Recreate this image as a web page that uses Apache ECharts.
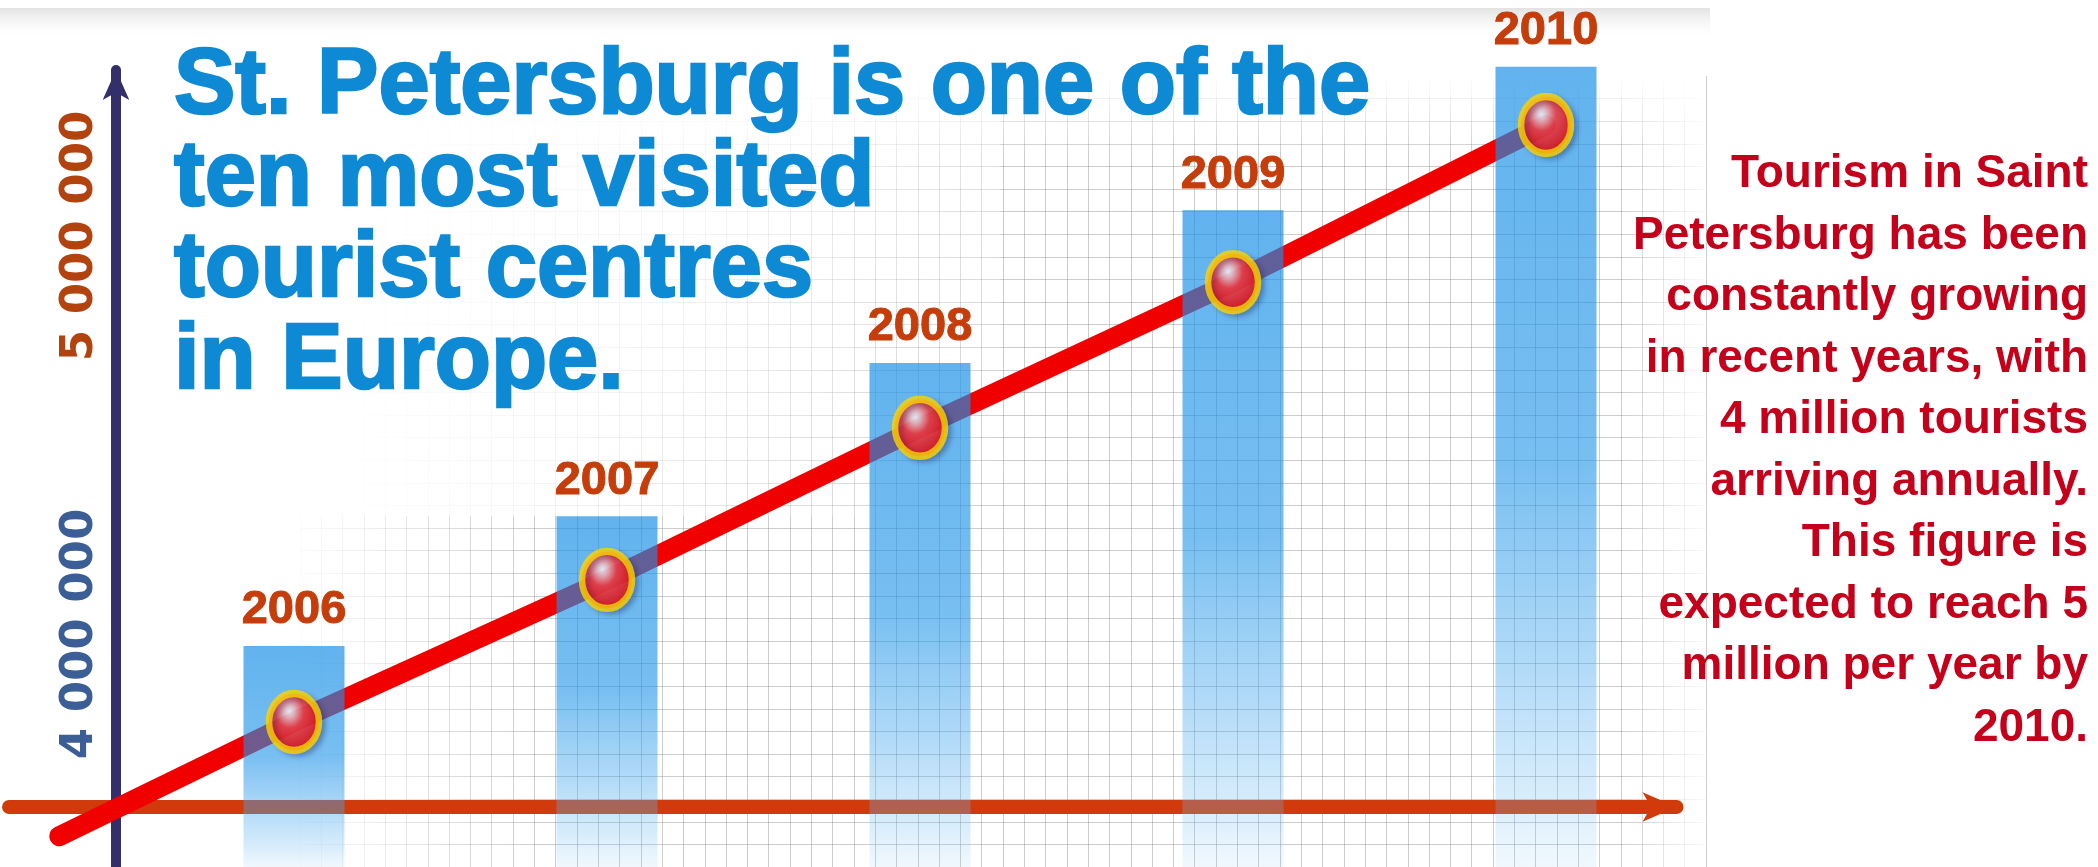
<!DOCTYPE html>
<html>
<head>
<meta charset="utf-8">
<script src="https://cdn.jsdelivr.net/npm/echarts@6.0.0/dist/echarts.min.js"></script>
<style>
html,body{margin:0;padding:0;background:#ffffff;}
#chart{width:2098px;height:867px;}
</style>
</head>
<body>
<div id="chart"></div>
<script>
// ---- data ----
const categories = ['2006', '2007', '2008', '2009', '2010'];
const barValues = [3970000, 4296000, 4681000, 5065000, 5425000];
const lineValues = [3779000, 4136000, 4518000, 4884000, 5279000];
const trendStart = [-0.75, 3492000];
const yTickValues = [4000000, 5000000];
const yTickLabels = ['4 000 000', '5 000 000'];
const yTickColors = ['#3b5e96', '#b2420e'];
const titleLines = ['St. Petersburg is one of the', 'ten most visited', 'tourist centres', 'in Europe.'];
const noteLines = ['Tourism in Saint', 'Petersburg has been', 'constantly growing', 'in recent years, with',
  '4 million tourists', 'arriving annually.', 'This figure is', 'expected to reach 5',
  'million per year by', '2010.'];

const FONT = '"Liberation Sans", Arial, sans-serif';
const Y_MIN = 3414600, Y_MAX = 5417100;
const chart = echarts.init(document.getElementById('chart'), null, {renderer: 'canvas'});

const lineData = [trendStart].concat(lineValues.map((v, i) => [i, v]));
const markerData = lineValues.map((v, i) => [i, v]);

const barStops = [
  {offset: 0, color: 'rgba(22,142,230,0.68)'},
  {offset: 0.5, color: 'rgba(30,148,232,0.6)'},
  {offset: 0.75, color: 'rgba(70,168,238,0.42)'},
  {offset: 0.92, color: 'rgba(110,188,242,0.26)'},
  {offset: 1, color: 'rgba(150,205,246,0.14)'}
];

const option = {
  backgroundColor: '#ffffff',
  animation: false,
  title: {
    text: titleLines.join('\n'),
    left: 174, top: 42, padding: 0,
    textStyle: {color: '#0e8ad5', fontSize: 92, fontWeight: 'bold', fontFamily: FONT, lineHeight: 91.5,
      textBorderColor: '#0e8ad5', textBorderWidth: 2.5}
  },
  grid: [
    {left: 137.5, right: 395.5, top: 70, bottom: 0},          // bars grid
    {left: 9, right: 421.5, top: 500, bottom: 60},              // horizontal axis arrow
    {left: 300, right: 392, top: 76, bottom: 0},                // graph-paper background
    {left: 43.6, right: 395.5, top: 70, bottom: 0}              // trend line grid (same scale, wider)
  ],
  xAxis: [
    {type: 'category', gridIndex: 0, data: categories, show: false},
    {type: 'value', gridIndex: 3, min: -0.8, max: 4.5, show: false},
    {type: 'value', gridIndex: 1, min: 0, max: 1, z: 1.5,
      axisLine: {show: true, onZero: false, lineStyle: {color: '#d13b0b', width: 14}, symbol: ['none', 'arrow'], symbolSize: [22, 34]},
      axisTick: {show: false}, axisLabel: {show: false}, splitLine: {show: false}},
    {type: 'value', gridIndex: 2, min: 0, max: 66, interval: 1,
      axisLine: {show: false}, axisTick: {show: false}, axisLabel: {show: false},
      splitLine: {show: true, lineStyle: {color: 'rgba(130,130,130,0.4)', width: 1}}}
  ],
  yAxis: [
    {type: 'value', gridIndex: 0, min: Y_MIN, max: Y_MAX, offset: 21.5, z: 1.5,
      axisLine: {show: true, onZero: false, lineStyle: {color: '#332f6b', width: 10}, symbol: ['none', 'arrow'], symbolSize: [20, 30]},
      axisTick: {show: false},
      splitLine: {show: false},
      axisLabel: {
        show: true, customValues: yTickValues, rotate: 90, margin: 13,
        formatter: function (v) { const i = yTickValues.indexOf(v); return i >= 0 ? yTickLabels[i] : ''; },
        color: function (v) { const i = yTickValues.indexOf(Number(v)); return i >= 0 ? yTickColors[i] : '#333'; },
        fontSize: 45, fontWeight: 'bold', fontFamily: '"DejaVu Sans", sans-serif'
      }
    },
    {type: 'value', gridIndex: 1, min: 0, max: 1, show: false},
    {type: 'value', gridIndex: 2, min: 0, max: 35, interval: 1,
      axisLine: {show: false}, axisTick: {show: false}, axisLabel: {show: false},
      splitLine: {show: true, lineStyle: {color: 'rgba(130,130,130,0.4)', width: 1}}},
    {type: 'value', gridIndex: 3, min: Y_MIN, max: Y_MAX, show: false}
  ],
  graphic: {
    elements: [
      {type: 'rect', z: 0, silent: true, shape: {x: 0, y: 8, width: 1710, height: 32},
        style: {fill: {type: 'linear', x: 0, y: 0, x2: 0, y2: 1, colorStops: [
          {offset: 0, color: '#e2e2e2'}, {offset: 1, color: 'rgba(255,255,255,0)'}]}}},
      {type: 'rect', z: 1, silent: true, shape: {x: 300, y: 76, width: 1406, height: 80},
        style: {fill: {type: 'linear', x: 0, y: 0, x2: 0, y2: 1, colorStops: [
          {offset: 0, color: 'rgba(255,255,255,1)'}, {offset: 1, color: 'rgba(255,255,255,0)'}]}}},
      {type: 'rect', z: 1, silent: true, shape: {x: 300, y: 76, width: 700, height: 440},
        style: {fill: {type: 'linear', x: 0, y: 0, x2: 1, y2: 1, colorStops: [
          {offset: 0, color: 'rgba(255,255,255,1)'}, {offset: 0.5, color: 'rgba(255,255,255,0.8)'},
          {offset: 1, color: 'rgba(255,255,255,0)'}]}}},
      {type: 'rect', z: 1, silent: true, shape: {x: 300, y: 76, width: 240, height: 791},
        style: {fill: {type: 'linear', x: 0, y: 0, x2: 1, y2: 0, colorStops: [
          {offset: 0, color: 'rgba(255,255,255,0.92)'}, {offset: 1, color: 'rgba(255,255,255,0)'}]}}},
      {type: 'rect', z: 1, silent: true, shape: {x: 1620, y: 76, width: 86, height: 791},
        style: {fill: {type: 'linear', x: 0, y: 0, x2: 1, y2: 0, colorStops: [
          {offset: 0, color: 'rgba(255,255,255,0)'}, {offset: 1, color: 'rgba(255,255,255,0.9)'}]}}},
      {type: 'text', z: 10, x: 2088, y: 143.75, silent: true,
        style: {text: noteLines.join('\n'), fill: '#c4001a', font: 'bold 46px ' + FONT,
          align: 'right', textAlign: 'right', verticalAlign: 'top', textVerticalAlign: 'top', lineHeight: 61.5}}
    ]
  },
  series: [
    {
      type: 'line', name: 'trend', xAxisIndex: 1, yAxisIndex: 3, data: lineData,
      showSymbol: false, symbol: 'none', z: 2, silent: true,
      lineStyle: {color: '#f10000', width: 20, cap: 'round', join: 'round'}
    },
    {
      type: 'bar', name: 'tourists', xAxisIndex: 0, yAxisIndex: 0, data: barValues,
      barWidth: 101, clip: false, z: 3, silent: true,
      itemStyle: {color: 'rgba(22,142,230,0.6)'},
      label: {show: true, position: 'top', distance: 12, formatter: '{b}',
        color: '#c43d0b', fontSize: 47, fontWeight: 'bold', fontFamily: FONT,
        textBorderColor: '#c43d0b', textBorderWidth: 1}
    },
    {
      type: 'scatter', name: 'points', xAxisIndex: 1, yAxisIndex: 3, data: markerData,
      symbol: 'path://M0,-1 A1,1 0 1,1 0,1 A1,1 0 1,1 0,-1 Z', symbolSize: [50, 57], z: 4, silent: true,
      itemStyle: {
        color: {type: 'radial', x: 0.42, y: 0.34, r: 0.72, colorStops: [
          {offset: 0, color: '#ffffff'}, {offset: 0.12, color: '#ffc8c8'},
          {offset: 0.35, color: '#ff3c3c'}, {offset: 0.75, color: '#ee0a0a'}, {offset: 1, color: '#c00000'}]},
        borderColor: '#ffd400', borderWidth: 7,
        shadowColor: 'rgba(20,20,80,0.3)', shadowBlur: 5, shadowOffsetX: 4, shadowOffsetY: 3
      }
    }
  ]
};
chart.setOption(option);

// per-bar vertical fade, from each bar's top (via the axis scale) to the bottom edge
const bottomPx = chart.getHeight();
const barData = barValues.map(function (v) {
  const topPx = chart.convertToPixel({yAxisIndex: 0}, v);
  return {
    value: v,
    itemStyle: {color: {type: 'linear', global: true, x: 0, y: topPx, x2: 0, y2: bottomPx, colorStops: barStops}}
  };
});
chart.setOption({series: [{}, {data: barData}, {}]});
</script>
</body>
</html>
